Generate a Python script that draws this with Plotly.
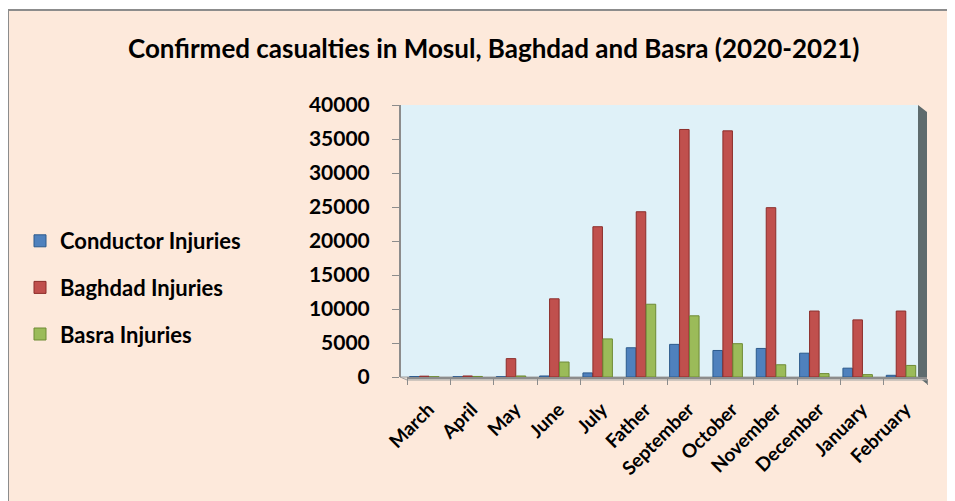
import plotly.graph_objects as go

months = ["March", "April", "May", "June", "July", "Father", "September",
          "October", "November", "December", "January", "February"]
conductor = [60, 40, 40, 150, 600, 4300, 4800, 3900, 4200, 3500, 1300, 250]
baghdad = [120, 150, 2700, 11500, 22100, 24300, 36400, 36200, 24900, 9700, 8400, 9700]
basra = [40, 80, 150, 2200, 5600, 10700, 9000, 4900, 1800, 500, 350, 1700]

W, H = 955, 501
OFF = 8  # page body margin
L, T = 400 - OFF, 105 - OFF
B = H - (377 - OFF)
R = W - (927 - OFF)
pw, ph = W - L - R, H - T - B


# screen pixel -> paper coords
def px(x):
    return (x - OFF - L) / pw


def py(y):
    return (H - B - (y - OFF)) / ph


font = "Lato"
bold = dict(family=font, color="black", weight="bold")
fig = go.Figure()
for name, vals, col, line, off in [("Conductor Injuries", conductor, "#4F81BD", "#2C5A8C", -0.44),
                                   ("Baghdad Injuries", baghdad, "#C0504D", "#8C2D2A", -0.21),
                                   ("Basra Injuries", basra, "#9BBB59", "#6E8B35", 0.02)]:
    fig.add_trace(go.Bar(x=months, y=vals, name=name, legendgroup=name,
                         width=0.22, offset=off,
                         marker=dict(color=col, line=dict(color=line, width=1))))

fig.update_layout(
    width=W, height=H,
    margin=dict(l=L, r=R, t=T, b=B),
    paper_bgcolor="white",
    plot_bgcolor="rgba(0,0,0,0)",
    barmode="overlay",
    font=dict(family=font, color="black"),
    showlegend=True,
    legend=dict(x=px(20), y=py(220), xanchor="left", yanchor="top",
                font=dict(size=22, **bold),
                tracegroupgap=15, bgcolor="rgba(0,0,0,0)"),
    xaxis=dict(domain=[px(407), 1], tickangle=-45, tickfont=dict(size=19, **bold),
               ticklabelstandoff=12,
               showline=True, linecolor="#8C8C8C", linewidth=2,
               ticks="outside", tickson="boundaries", ticklen=6, tickcolor="#8C8C8C",
               showgrid=False),
    yaxis=dict(range=[0, 40000], dtick=5000, tickformat="d",
               anchor="free", position=0,
               tickfont=dict(size=21, **bold), ticklabelstandoff=18,
               showline=True, linecolor="#8C8C8C", linewidth=2,
               ticks="outside", ticklen=7, tickcolor="#8C8C8C",
               showgrid=False, zeroline=False),
    shapes=[
        dict(type="rect", xref="paper", yref="paper", layer="below",
             x0=px(8), x1=px(960), y0=py(10), y1=py(520),
             fillcolor="#FDE9DB", line=dict(color="#8C8C8C", width=2)),
        dict(type="rect", xref="paper", yref="paper", layer="below",
             x0=0, x1=px(918), y0=0, y1=1, fillcolor="#DFF1F8", line=dict(width=0)),
        dict(type="path", xref="paper", yref="paper", layer="below",
             path="M %f,%f L %f,%f L %f,%f L %f,%f Z" % (
                 px(918), py(105), px(927), py(112), px(927), py(384), px(918), py(377)),
             fillcolor="#5E6B6D", line=dict(width=0)),
        dict(type="path", xref="paper", yref="paper", layer="below",
             path="M %f,%f L %f,%f L %f,%f L %f,%f Z" % (
                 px(400), py(377), px(918), py(377), px(927), py(380), px(407), py(380)),
             fillcolor="#E8E0D6", line=dict(color="#A0A0A0", width=1)),
    ],
    annotations=[
        dict(text="<b>Confirmed casualties in Mosul, Baghdad and Basra (2020-2021)</b>",
             xref="paper", yref="paper", x=px(493), y=py(48), showarrow=False,
             xanchor="center", yanchor="middle",
             font=dict(size=26, family=font, color="black")),
        dict(text="<b>2020-2021</b>", xref="paper", yref="paper",
             x=px(478), y=py(9), showarrow=False, xanchor="center", yanchor="bottom",
             font=dict(size=26, family="Liberation Serif", color="black")),
    ],
)

fig.write_html("out.html")
